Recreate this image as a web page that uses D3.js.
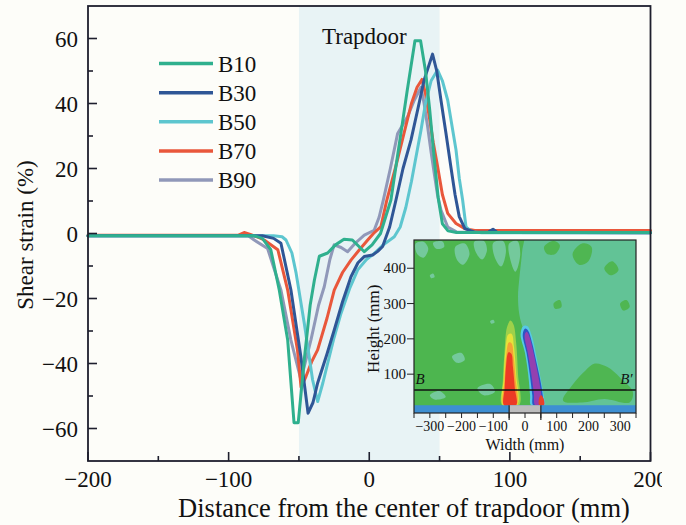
<!DOCTYPE html>
<html><head><meta charset="utf-8">
<script src="https://cdn.jsdelivr.net/npm/d3@7"></script>
<style>
html,body{margin:0;padding:0;background:#fdfdf9;}
svg{display:block;font-family:"Liberation Serif","Times New Roman",serif;}
</style></head><body>
<svg id="c" width="686" height="525"></svg>
<script>
// ---------------- main chart data ----------------
const seriesNames = ["B10","B30","B50","B70","B90"];
const seriesColors = ["#2fb08e","#2f5696","#5dc6cf","#e9573b","#9098b9"];
const b10 = [[-200,-0.7],[-82,-0.7],[-76,-1.5],[-70,-5],[-64,-17.4],[-58,-32.8],[-53.5,-58.2],[-50.5,-58.2],[-46,-38],[-42,-22],[-39,-14.3],[-35.5,-7],[-29.6,-6],[-24,-3.5],[-18,-1.8],[-12,-2],[-3.5,-5.6],[2,-3.5],[8,0],[15.4,10.3],[22.5,30.8],[27,44],[32.5,59.3],[36.5,59.3],[40,50],[43,38],[46,24],[49,11],[52,3],[56,0.8],[62,0.3],[200,0.3]];
const b30 = [[-200,-0.7],[-76,-0.7],[-68,-1.5],[-62.8,-3],[-55.7,-17.4],[-48.6,-38],[-43.5,-55.3],[-40,-52],[-36.7,-46],[-30,-37],[-24.9,-29.7],[-19,-21],[-13,-13.3],[-8,-9],[-3.6,-7.1],[2.4,-6.6],[6,-5.5],[9.5,-4],[14.5,2],[19,10.3],[24,20],[29.7,28.8],[34.4,38],[39,47.2],[45,55.2],[48,50],[51,41],[54.5,31],[58,20.6],[61,12],[64,5.2],[68,1.5],[75,0.4],[85,0.5],[88,1.3],[91,0.3],[200,0.2]];
const b50 = [[-200,-0.7],[-68,-0.7],[-62,-1],[-59.2,-2],[-55,-6],[-52,-12.2],[-46.2,-27.6],[-40.3,-45],[-36.7,-51.7],[-33,-46],[-29.6,-40],[-25,-32],[-20.1,-24.6],[-14,-17],[-8.2,-11.2],[-2,-8],[3.6,-6.1],[10,-3.5],[17.8,-1],[22,2],[26,8],[30,16],[33,23],[36.8,31.8],[40,40],[44,47],[48.6,50.3],[52,47],[55.8,41],[58.5,34],[61.7,25.7],[64,17],[66.4,10.3],[68.8,2],[73,0.5],[80,0.2],[200,0.2]];
const b70 = [[-200,-0.5],[-93,-0.5],[-89,0.3],[-84,-0.4],[-80,-1],[-74.7,-2],[-65,-5],[-58,-17.4],[-51,-36],[-48.5,-47.3],[-45,-44],[-41,-39.5],[-36.7,-35.8],[-30,-26],[-24.9,-17.4],[-19,-12],[-13,-8.2],[-7,-5],[-1.1,-2],[3,0],[8.3,2.1],[12.5,10.3],[18.5,20],[24.7,30.8],[30,40],[34,45],[37.5,47.4],[40,43],[42.7,35.9],[45.5,28],[48.6,20.6],[52,12],[55.8,6.2],[61.7,3.1],[68,1.5],[75,0.9],[200,0.9]];
const b90 = [[-200,-0.7],[-86,-0.7],[-81.8,-2],[-72.3,-4.6],[-62.8,-17.4],[-55.7,-32.8],[-48.6,-45],[-41.5,-32.8],[-36,-22],[-32,-16.4],[-28,-8],[-25,-3.5],[-20,-4.3],[-15.4,-5.6],[-10,-3],[-3.5,-0.5],[3.5,1],[7,5],[10,10.3],[15,20],[20.2,30.8],[27.3,36],[32,41],[36.8,45],[39,40],[41.5,32.9],[44,25],[46.2,18.5],[48.5,12],[51,7.2],[55.8,2],[62,0.5],[200,0.2]];
const seriesData = [b10,b30,b50,b70,b90];
const xTicks = [-200,-100,0,100,200];
const xMinorTicks = [-150,-50,50,150];
const yTicks = [-60,-40,-20,0,20,40,60];
const yMinorTicks = [-50,-30,-10,10,30,50];
const trapdoorRange = [-50,50];
const xTitle = "Distance from the center of trapdoor (mm)";
const yTitle = "Shear strain (%)";
const trapdoorLabel = "Trapdoor";

// ---------------- inset data (Width mm, Height mm) ----------------
const insetXTicks = [-300,-200,-100,0,100,200,300];
const insetXMinor = [-350,-250,-150,-50,50,150,250,350];
const insetYTicks = [100,200,300,400];
const insetBaseTop = 12;
const insetLineHeight = 55;
const insetMintRegion = [[-2,480],[350,480],[350,12],[62,12],[48,60],[28,150],[10,200],[-8,235],[-18,270],[-22,320],[-18,370],[-12,420],[-8,455]];
const insetLightPatches = [
  [[-345,470],[-320,475],[-305,455],[-320,430],[-340,440]],
  [[-290,472],[-260,476],[-255,460],[-280,455]],
  [[-220,460],[-190,470],[-175,440],[-195,410],[-215,425]],
  [[-160,475],[-130,478],[-120,450],[-135,425],[-155,445]],
  [[-100,472],[-70,478],[-60,450],[-75,405],[-95,430]],
  [[-50,470],[-25,478],[-15,440],[-30,390],[-45,420]],
  [[-300,380],[-290,385],[-285,375],[-296,372]],
  [[-230,150],[-200,160],[-190,140],[-215,132]],
  [[-150,60],[-110,72],[-95,50],[-130,40]],
  [[-300,40],[-270,52],[-250,35],[-285,28]],
  [[-110,250],[-100,254],[-96,246],[-106,243]]
];
const insetGreenPatches = [
  [[120,25],[150,70],[190,110],[220,130],[260,120],[300,90],[340,50],[330,20],[250,30],[180,20]],
  [[150,440],[180,470],[210,460],[200,420],[170,410]],
  [[250,400],[275,420],[295,395],[270,380]],
  [[90,300],[110,310],[115,290],[95,285]],
  [[300,300],[320,310],[330,290],[310,280]],
  [[60,460],[90,478],[110,465],[95,440],[70,440]]
];
const insetLeftPlume = [
  {color:"#9ed14a", pts:[[-72,12],[-70,80],[-64,170],[-57,232],[-46,252],[-36,240],[-28,190],[-22,100],[-19,12]]},
  {color:"#e6e23a", pts:[[-69,12],[-67,90],[-61,175],[-53,212],[-42,214],[-35,180],[-28,100],[-25,12]]},
  {color:"#f4a236", pts:[[-67,12],[-65,80],[-59,155],[-51,190],[-42,187],[-36,150],[-30,90],[-27,12]]},
  {color:"#ec3b25", pts:[[-66,12],[-64,60],[-60,120],[-52,162],[-43,158],[-38,120],[-32,60],[-28,12]]}
];
const insetRightPlume = [
  {color:"#56c8e6", pts:[[-14,212],[-6,236],[8,236],[21,210],[36,150],[51,80],[61,30],[63,12],[19,12],[16,40],[10,100],[0,160]]},
  {color:"#2d55c4", pts:[[-7,214],[1,229],[10,223],[22,190],[37,130],[51,70],[58,25],[59,12],[26,12],[23,40],[15,100],[5,160]]},
  {color:"#9440b0", pts:[[-1,211],[5,220],[12,211],[24,172],[38,112],[48,62],[53,22],[53,12],[32,12],[28,45],[20,100],[9,160]]},
  {color:"#e94028", pts:[[45,12],[45,33],[51,40],[59,30],[60,12]]}
];

// ---------------- drawing ----------------
const svg = d3.select("#c");
const W = 686, H = 525;
const L = 88, R = 650.5, T = 6, B = 461;
const x = d3.scaleLinear().domain([-200,200]).range([L,R]);
const y = d3.scaleLinear().domain([-70,70]).range([B,T]);
const axisColor = "#1e1f2e";

// trapdoor shading
svg.append("rect").attr("x",x(trapdoorRange[0])).attr("y",T).attr("width",x(trapdoorRange[1])-x(trapdoorRange[0])).attr("height",B-T).attr("fill","#e8f3f5");
svg.append("text").attr("x",322).attr("y",44).attr("font-size",23).attr("fill","#111").text(trapdoorLabel);

// curves
const line = d3.line().x(d=>x(d[0])).y(d=>y(d[1]));
const order = [4,3,2,1,0];
order.forEach(i=>{
  svg.append("path").datum(seriesData[i]).attr("d",line).attr("fill","none")
    .attr("stroke",seriesColors[i]).attr("stroke-width",3).attr("stroke-linejoin","round").attr("stroke-linecap","round");
});

// frame
svg.append("rect").attr("x",L).attr("y",T).attr("width",R-L).attr("height",B-T).attr("fill","none").attr("stroke",axisColor).attr("stroke-width",1.8);

// ticks
const gx = svg.append("g");
xTicks.forEach(t=>{ gx.append("line").attr("x1",x(t)).attr("x2",x(t)).attr("y1",B).attr("y2",B-9).attr("stroke",axisColor).attr("stroke-width",1.6); });
xMinorTicks.forEach(t=>{ gx.append("line").attr("x1",x(t)).attr("x2",x(t)).attr("y1",B).attr("y2",B-5).attr("stroke",axisColor).attr("stroke-width",1.6); });
const fmt = d3.format("");
svg.append("clipPath").attr("id","pageclip").append("rect").attr("x",0).attr("y",0).attr("width",662).attr("height",H);
const gxl = svg.append("g").attr("clip-path","url(#pageclip)");
xTicks.forEach(t=>{ gxl.append("text").attr("x",x(t)).attr("y",487).attr("text-anchor","middle").attr("font-size",23).attr("fill","#111").text(fmt(t)); });
yTicks.forEach(t=>{
  svg.append("line").attr("x1",L).attr("x2",L+9).attr("y1",y(t)).attr("y2",y(t)).attr("stroke",axisColor).attr("stroke-width",1.6);
  svg.append("text").attr("x",78).attr("y",y(t)+8).attr("text-anchor","end").attr("font-size",23).attr("fill","#111").text(fmt(t));
});
yMinorTicks.forEach(t=>{ svg.append("line").attr("x1",L).attr("x2",L+5).attr("y1",y(t)).attr("y2",y(t)).attr("stroke",axisColor).attr("stroke-width",1.6); });

svg.append("text").attr("x",404).attr("y",517).attr("text-anchor","middle").attr("font-size",26.5).attr("fill","#111").text(xTitle);
svg.append("text").attr("transform","translate(33,235) rotate(-90)").attr("text-anchor","middle").attr("font-size",23).attr("fill","#111").text(yTitle);

// legend
const legY = d3.scalePoint().domain(seriesNames).range([63.5,180]);
seriesNames.forEach((n,i)=>{
  svg.append("line").attr("x1",159).attr("x2",213).attr("y1",legY(n)).attr("y2",legY(n)).attr("stroke",seriesColors[i]).attr("stroke-width",3.5);
  svg.append("text").attr("x",218).attr("y",legY(n)+8).attr("font-size",23).attr("fill","#111").text(n);
});

// ---------------- inset ----------------
const ix = d3.scaleLinear().domain([-350,350]).range([414,636]);
const iy = d3.scaleLinear().domain([-10,480]).range([413,240]);
const gi = svg.append("g");
gi.append("clipPath").attr("id","iclip").append("rect").attr("x",ix(-350)).attr("y",iy(480)).attr("width",ix(350)-ix(-350)).attr("height",iy(-10)-iy(480));
const gc = gi.append("g").attr("clip-path","url(#iclip)");
gc.append("rect").attr("x",ix(-350)).attr("y",iy(480)).attr("width",ix(350)-ix(-350)).attr("height",iy(-10)-iy(480)).attr("fill","#4db64f");
const blob = d3.line().x(d=>ix(d[0])).y(d=>iy(d[1])).curve(d3.curveCatmullRomClosed.alpha(0.5));
gc.append("path").attr("d",d3.line().x(d=>ix(d[0])).y(d=>iy(d[1])).curve(d3.curveCatmullRom)(insetMintRegion)+"Z").attr("fill","#62c396");
insetLightPatches.forEach(p=>gc.append("path").attr("d",blob(p)).attr("fill","#74c99c"));
insetGreenPatches.forEach(p=>gc.append("path").attr("d",blob(p)).attr("fill","#4fb652"));
insetLeftPlume.forEach(l=>gc.append("path").attr("d",blob(l.pts)).attr("fill",l.color));
insetRightPlume.forEach(l=>gc.append("path").attr("d",blob(l.pts)).attr("fill",l.color));
// base bar
gc.append("rect").attr("x",ix(-350)).attr("y",iy(insetBaseTop)).attr("width",ix(350)-ix(-350)).attr("height",iy(-10)-iy(insetBaseTop)).attr("fill","#3d8fd2");
gc.append("rect").attr("x",ix(-50)).attr("y",iy(insetBaseTop)).attr("width",ix(50)-ix(-50)).attr("height",iy(-10)-iy(insetBaseTop)).attr("fill","#bdbdbd");
// B-B' line
gc.append("line").attr("x1",ix(-350)).attr("x2",ix(350)).attr("y1",iy(insetLineHeight)).attr("y2",iy(insetLineHeight)).attr("stroke","#111").attr("stroke-width",1.5);
gi.append("text").attr("x",ix(-345)).attr("y",iy(insetLineHeight)-6).attr("font-size",15).attr("font-style","italic").attr("fill","#111").text("B");
gi.append("text").attr("x",ix(300)).attr("y",iy(insetLineHeight)-6).attr("font-size",15).attr("font-style","italic").attr("fill","#111").text("B\u2032");
// frame
gi.append("rect").attr("x",ix(-350)).attr("y",iy(480)).attr("width",ix(350)-ix(-350)).attr("height",iy(-10)-iy(480)).attr("fill","none").attr("stroke","#222").attr("stroke-width",1.2);
// inset axes
insetXMinor.concat(insetXTicks).forEach(t=>gi.append("line").attr("x1",ix(t)).attr("x2",ix(t)).attr("y1",iy(-10)).attr("y2",iy(-10)+5).attr("stroke","#222").attr("stroke-width",1));
[-50,50].forEach(t=>gi.append("line").attr("x1",ix(t)).attr("x2",ix(t)).attr("y1",iy(insetBaseTop)).attr("y2",iy(-10)+7).attr("stroke","#222").attr("stroke-width",1.2));
insetXTicks.forEach(t=>gi.append("text").attr("x",ix(t)).attr("y",431).attr("text-anchor","middle").attr("font-size",14).attr("fill","#111").text(fmt(t)));
insetYTicks.forEach(t=>{
  gi.append("line").attr("x1",ix(-350)-7).attr("x2",ix(-350)).attr("y1",iy(t)).attr("y2",iy(t)).attr("stroke","#222").attr("stroke-width",1);
  gi.append("text").attr("x",ix(-350)-8).attr("y",iy(t)+5).attr("text-anchor","end").attr("font-size",15).attr("fill","#111").text(fmt(t));
});
gi.append("text").attr("x",(ix(-350)+ix(350))/2).attr("y",450).attr("text-anchor","middle").attr("font-size",16).attr("fill","#111").text("Width (mm)");
gi.append("text").attr("transform","translate(379,"+((iy(480)+iy(0))/2+4)+") rotate(-90)").attr("text-anchor","middle").attr("font-size",17).attr("fill","#111").text("Height (mm)");
</script>
</body></html>
